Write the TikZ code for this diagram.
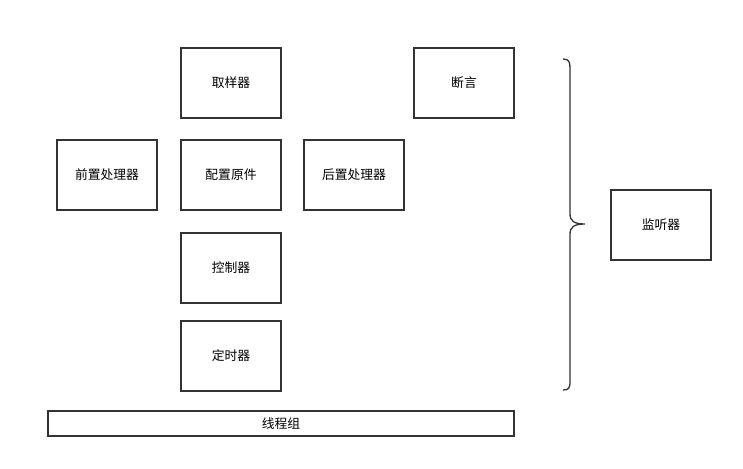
\documentclass[tikz,border=0pt]{standalone}
\usepackage{fontspec}
\setmainfont{Noto Sans CJK SC}
\usepackage{tikz}
\usetikzlibrary{positioning}
\definecolor{boxline}{HTML}{333333}
\tikzset{
  comp/.style={draw=boxline, line width=1.3pt, fill=white, align=center,
               minimum width=100pt, minimum height=70pt, inner sep=0pt,
               font=\fontsize{12.8pt}{14pt}\selectfont},
  bar/.style={comp, minimum width=466pt, minimum height=25pt},
}

\begin{document}
\begin{tikzpicture}[x=1pt,y=-1pt]
  \useasboundingbox (0,0) rectangle (743,468);
  % elements
  \node[comp] (sampler) at (231,83) {取样器};
  \node[comp] (assert)  at (464,83) {断言};
  \node[comp] (pre)     at (107,175) {前置处理器};
  \node[comp] (config)  at (231,175) {配置原件};
  \node[comp] (post)    at (354,175) {后置处理器};
  \node[comp] (ctrl)    at (231,268) {控制器};
  \node[comp] (timer)   at (231,356) {定时器};
  % thread group
  \node[bar] (group) at (281,423.5) {线程组};
  % listener
  \node[comp] (listen) at (661,225) {监听器};
  % brace
  \draw[boxline, line width=1.3pt]
    (563,59) .. controls (569,59) and (570,62) .. (570,68) -- (570,214)
    .. controls (570,221) and (574,224) .. (585,224)
    .. controls (574,224) and (570,227) .. (570,234) -- (570,381)
    .. controls (570,388) and (569,390) .. (563,390);
\end{tikzpicture}
\end{document}
